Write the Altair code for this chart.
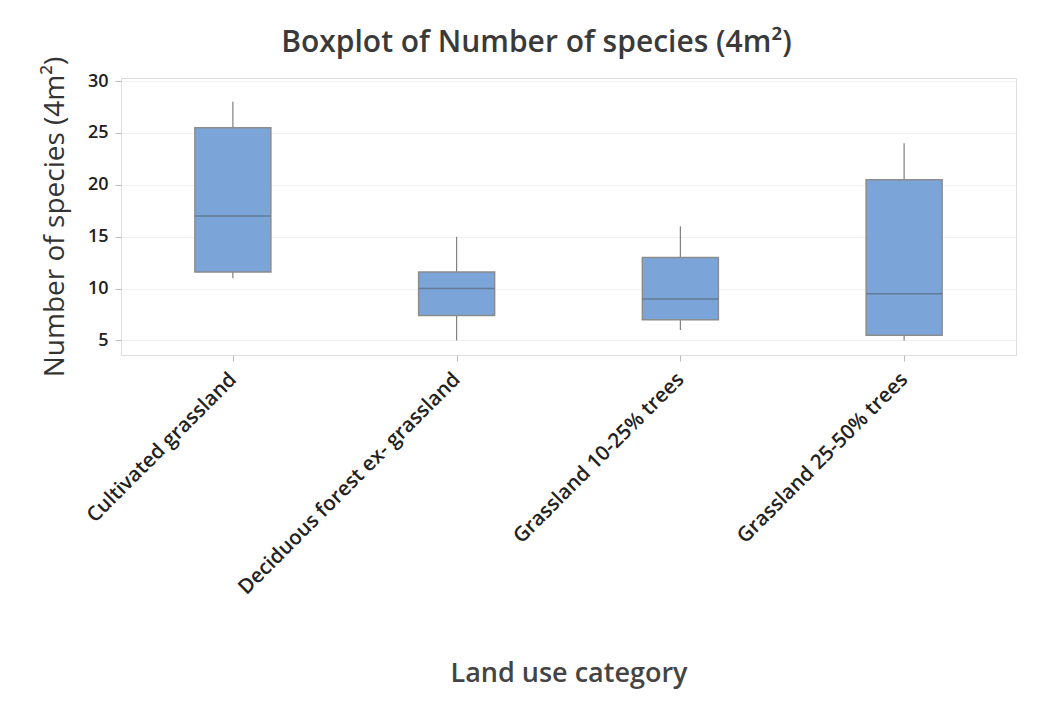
import altair as alt
import pandas as pd

categories = ["Cultivated grassland", "Deciduous forest ex- grassland",
              "Grassland 10-25% trees", "Grassland 25-50% trees"]
w_low = [11, 5, 6, 5]
q1 = [11.6, 7.4, 7, 5.5]
median = [17, 10, 9, 9.5]
q3 = [25.5, 11.6, 13, 20.5]
w_high = [28, 15, 16, 24]
y_ticks = [5, 10, 15, 20, 25, 30]

df = pd.DataFrame({"cat": categories, "lo": w_low, "q1": q1, "med": median,
                   "q3": q3, "hi": w_high})

FONT = "Open Sans"
x = alt.X("cat:N", sort=categories, title="Land use category",
          scale=alt.Scale(type="point", padding=0.5),
          axis=alt.Axis(labelAngle=-45, labelAlign="right", labelBaseline="middle",
                        labelFontSize=20.5, labelFontWeight=600, labelColor="#222",
                        labelFont=FONT, labelLimit=0,
                        titleFontSize=27, titleFont=FONT, titleFontWeight=600,
                        titleColor="#444", titlePadding=105, tickColor="#bbb",
                        tickSize=6, gridColor="#eeeeee", domain=False, labelPadding=15))
yscale = alt.Scale(domain=[3.6, 30.3], nice=False, zero=False)
yaxis = alt.Axis(values=y_ticks, labelFontSize=18, labelFontWeight=600, labelColor="#222",
                 labelFont=FONT, titleFontSize=28, titleFont=FONT, titleFontWeight="normal",
                 titleColor="#333", tickColor="#bbb", tickSize=6, gridColor="#f0f0f0",
                 domain=False, titlePadding=18, labelPadding=7)

base = alt.Chart(df)
whisk = base.mark_rule(color="#808080", strokeWidth=1.2).encode(
    x=x, y=alt.Y("lo:Q", scale=yscale, axis=yaxis, title="Number of species (4m²)"),
    y2="hi:Q")
box = base.mark_bar(size=76, color="#7BA5D9", stroke="#8c8c8c", strokeWidth=1.5).encode(
    x=x, y=alt.Y("q1:Q", scale=yscale), y2="q3:Q")
med = base.mark_tick(size=76, color="#5d6b7a", thickness=1.5, orient="horizontal").encode(
    x=x, y=alt.Y("med:Q", scale=yscale))

chart = alt.layer(whisk, box, med).properties(
    width=895, height=277,
    title=alt.Title("Boxplot of Number of species (4m²)", fontSize=30, font=FONT,
                    fontWeight=600, color="#3a3a3a", offset=1, anchor="middle",
                    frame="group", dx=-32, dy=3),
).configure_view(stroke="#c8c8c8", strokeWidth=1.5).configure(padding={"left": 33, "top": 20, "right": 5, "bottom": 5})

chart.save("out.html", embed_options={"renderer": "svg", "actions": False})
